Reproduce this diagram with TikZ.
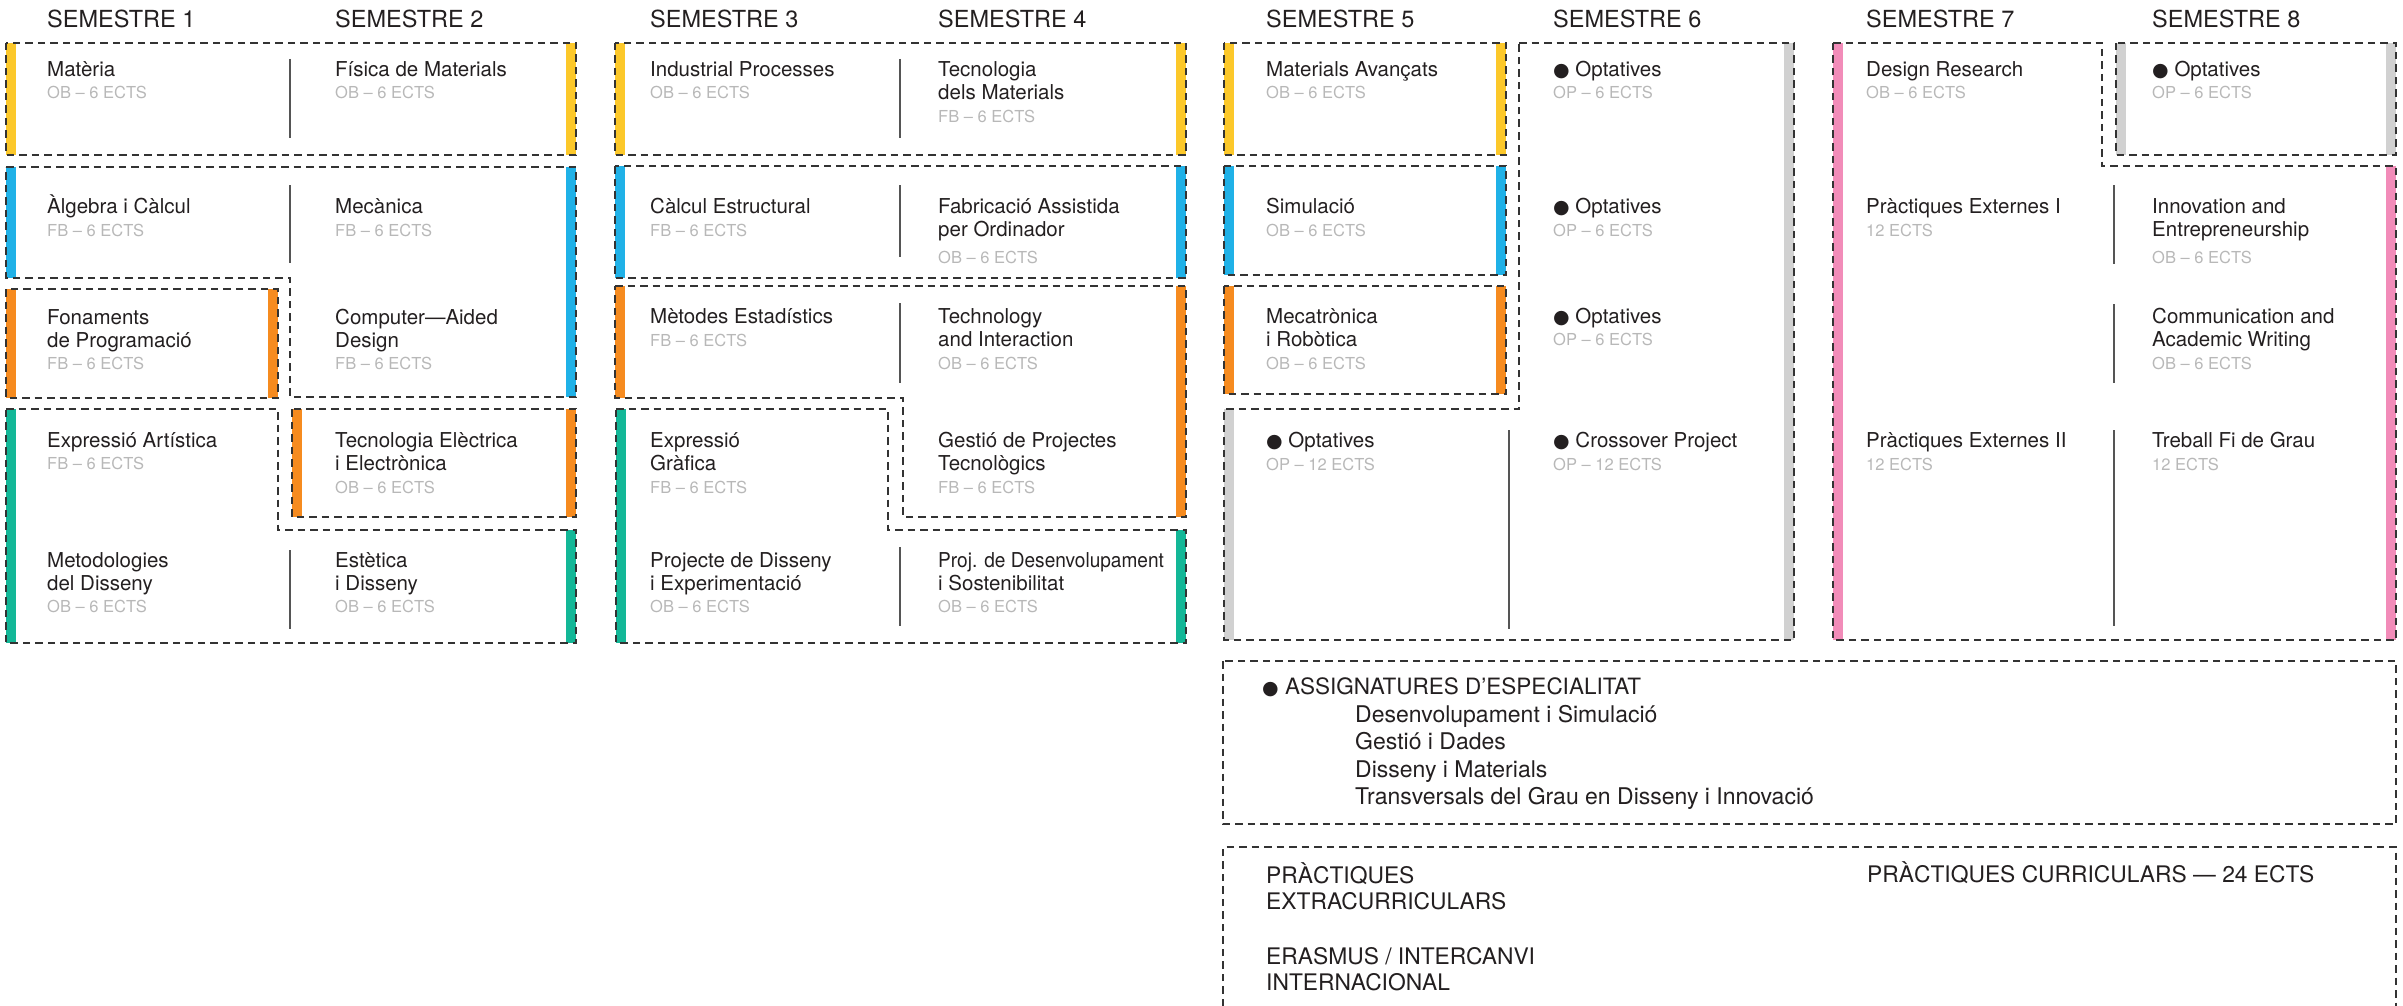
\documentclass[tikz,border=0pt]{standalone}
\usepackage{fontspec}
\setmainfont{TeX Gyre Heros}
\newfontfamily\dejavu{DejaVu Sans}
\definecolor{cyel}{HTML}{FCC82A}
\definecolor{ccya}{HTML}{20B1E7}
\definecolor{cora}{HTML}{F68B1F}
\definecolor{cgre}{HTML}{13B797}
\definecolor{cpin}{HTML}{F28CB9}
\definecolor{cgry}{HTML}{D1D1D1}
\definecolor{linec}{HTML}{333333}
\definecolor{divc}{HTML}{555555}
\definecolor{txt}{HTML}{231F20}
\definecolor{ectsc}{HTML}{B8B8B8}
\tikzset{
  dbox/.style={draw=linec, line width=1.6pt, dash pattern=on 7.5pt off 5pt},
  divl/.style={draw=divc, line width=1.3pt},
  subj/.style={anchor=base west, inner sep=0pt, text=txt, font=\fontsize{20.5}{23}\selectfont},
  ects/.style={anchor=base west, inner sep=0pt, text=ectsc, font=\fontsize{16.5}{19}\selectfont},
  semt/.style={anchor=base west, inner sep=0pt, text=txt, font=\fontsize{23.5}{28}\selectfont},
  botA/.style={anchor=base west, inner sep=0pt, text=txt, font=\fontsize{22.5}{27.5}\selectfont},
  botL/.style={anchor=base west, inner sep=0pt, text=txt, font=\fontsize{23}{27.5}\selectfont},
  botB/.style={anchor=base west, inner sep=0pt, text=txt, font=\fontsize{22.8}{26}\selectfont},
}
\newcommand\bul[1]{{\dejavu\fontsize{#1}{#1}\selectfont ●}}
\newcommand\Subj[6]{%
  \node[subj] (#1) at (#2,#3) {\begin{tabular}[t]{@{}l@{}}#4\end{tabular}};
  \node[ects] (#1e) at (#2,#5) {#6};}
\begin{document}
\begin{tikzpicture}[x=1pt,y=-1pt]
\useasboundingbox (0,0) rectangle (2403,1006);
% ---------- coloured bars ----------
% block 1
\fill[cyel] (6,43) rectangle (16,155);   \fill[cyel] (566,43) rectangle (576,155);
\fill[ccya] (6,167) rectangle (16,278);  \fill[ccya] (566,167) rectangle (576,397);
\fill[cora] (6,289) rectangle (16,398);  \fill[cora] (268,289) rectangle (278,398);
\fill[cora] (292,409) rectangle (302,517); \fill[cora] (566,409) rectangle (576,517);
\fill[cgre] (6,409) rectangle (16,643);  \fill[cgre] (566,530) rectangle (576,643);
% block 2
\fill[cyel] (615,43) rectangle (625,155);  \fill[cyel] (1176,43) rectangle (1186,155);
\fill[ccya] (615,166) rectangle (625,278); \fill[ccya] (1176,166) rectangle (1186,278);
\fill[cora] (615,286) rectangle (625,398); \fill[cora] (1176,286) rectangle (1186,517);
\fill[cgre] (616,409) rectangle (626,643); \fill[cgre] (1176,530) rectangle (1186,643);
% block 3
\fill[cyel] (1224,43) rectangle (1234,155);  \fill[cyel] (1496,43) rectangle (1506,155);
\fill[ccya] (1224,166) rectangle (1234,275); \fill[ccya] (1496,166) rectangle (1506,275);
\fill[cora] (1224,286) rectangle (1234,394); \fill[cora] (1496,286) rectangle (1506,394);
\fill[cgry] (1224,409) rectangle (1234,640); \fill[cgry] (1784,43) rectangle (1794,640);
% block 4
\fill[cpin] (1833,43) rectangle (1843,640);  \fill[cpin] (2386,166) rectangle (2396,640);
\fill[cgry] (2116,43) rectangle (2126,155);  \fill[cgry] (2386,43) rectangle (2396,155);
% ---------- dashed outlines ----------
\draw[dbox] (6,43) rectangle (576,155);
\draw[dbox] (6,167) -- (576,167) -- (576,397) -- (290,397) -- (290,278) -- (6,278) -- cycle;
\draw[dbox] (6,289) rectangle (278,398);
\draw[dbox] (292,409) rectangle (576,517);
\draw[dbox] (6,409) -- (278,409) -- (278,530) -- (576,530) -- (576,643) -- (6,643) -- cycle;
\draw[dbox] (615,43) rectangle (1186,155);
\draw[dbox] (615,166) rectangle (1186,278);
\draw[dbox] (615,286) -- (1186,286) -- (1186,517) -- (903,517) -- (903,398) -- (615,398) -- cycle;
\draw[dbox] (616,409) -- (888,409) -- (888,530) -- (1186,530) -- (1186,643) -- (616,643) -- cycle;
\draw[dbox] (1224,43) rectangle (1506,155);
\draw[dbox] (1224,166) rectangle (1506,275);
\draw[dbox] (1224,286) rectangle (1506,394);
\draw[dbox] (1519,43) -- (1794,43) -- (1794,640) -- (1224,640) -- (1224,409) -- (1519,409) -- cycle;
\draw[dbox] (1833,43) -- (2102,43) -- (2102,166) -- (2396,166) -- (2396,640) -- (1833,640) -- cycle;
\draw[dbox] (2116,43) rectangle (2396,155);
\draw[dbox] (1223,661) rectangle (2396,824);
\draw[dbox] (1223,1006) -- (1223,847) -- (2396,847) -- (2396,1006);
% ---------- dividers ----------
\draw[divl] (290,59) -- (290,138);  \draw[divl] (290,185) -- (290,263);  \draw[divl] (290,550) -- (290,629);
\draw[divl] (900,59) -- (900,138);  \draw[divl] (900,185) -- (900,257);  \draw[divl] (900,303) -- (900,383);  \draw[divl] (900,547) -- (900,626);
\draw[divl] (1509,430) -- (1509,629);
\draw[divl] (2114,185) -- (2114,264); \draw[divl] (2114,304) -- (2114,383); \draw[divl] (2114,430) -- (2114,626);
% ---------- semester titles ----------
\node[semt] (t1) at (47,28) {SEMESTRE 1};
\node[semt] (t2) at (335,28) {SEMESTRE 2};
\node[semt] (t3) at (650,28) {SEMESTRE 3};
\node[semt] (t4) at (938,28) {SEMESTRE 4};
\node[semt] (t5) at (1266,28) {SEMESTRE 5};
\node[semt] (t6) at (1553,28) {SEMESTRE 6};
\node[semt] (t7) at (1866,28) {SEMESTRE 7};
\node[semt] (t8) at (2152,28) {SEMESTRE 8};
% ---------- block 1 ----------
\Subj{a1}{47}{77}{Matèria}{99}{OB – 6 ECTS}
\Subj{a2}{335}{77}{Física de Materials}{99}{OB – 6 ECTS}
\Subj{a3}{47}{213}{Àlgebra i Càlcul}{236}{FB – 6 ECTS}
\Subj{a4}{335}{213}{Mecànica}{236}{FB – 6 ECTS}
\Subj{a5}{47}{324}{Fonaments\\de Programació}{369}{FB – 6 ECTS}
\Subj{a6}{335}{324}{Computer—Aided\\Design}{369}{FB – 6 ECTS}
\Subj{a7}{47}{447}{Expressió Artística}{469}{FB – 6 ECTS}
\Subj{a8}{335}{447}{Tecnologia Elèctrica\\i Electrònica}{493}{OB – 6 ECTS}
\Subj{a9}{47}{567}{Metodologies\\del Disseny}{612}{OB – 6 ECTS}
\Subj{a10}{335}{567}{Estètica\\i Disseny}{612}{OB – 6 ECTS}
% ---------- block 2 ----------
\Subj{b1}{650}{77}{Industrial Processes}{99}{OB – 6 ECTS}
\Subj{b2}{938}{77}{Tecnologia\\dels Materials}{123}{FB – 6 ECTS}
\Subj{b3}{650}{213}{Càlcul Estructural}{236}{FB – 6 ECTS}
\Subj{b4}{938}{213}{Fabricació Assistida\\per Ordinador}{263}{OB – 6 ECTS}
\Subj{b5}{650}{323}{Mètodes Estadístics}{346}{FB – 6 ECTS}
\Subj{b6}{938}{323}{Technology\\and Interaction}{369}{OB – 6 ECTS}
\Subj{b7}{650}{447}{Expressió\\Gràfica}{493}{FB – 6 ECTS}
\Subj{b8}{938}{447}{Gestió de Projectes\\Tecnològics}{493}{FB – 6 ECTS}
\Subj{b9}{650}{567}{Projecte de Disseny\\i Experimentació}{612}{OB – 6 ECTS}
\Subj{b10}{938}{567}{\scalebox{0.93}[1]{Proj. de Desenvolupament}\\i Sostenibilitat}{612}{OB – 6 ECTS}
% ---------- block 3 ----------
\Subj{c1}{1266}{77}{Materials Avançats}{99}{OB – 6 ECTS}
\Subj{c2}{1553}{77}{\bul{19} Optatives}{99}{OP – 6 ECTS}
\Subj{c3}{1266}{213}{Simulació}{236}{OB – 6 ECTS}
\Subj{c4}{1553}{213}{\bul{19} Optatives}{236}{OP – 6 ECTS}
\Subj{c5}{1266}{323}{Mecatrònica\\i Robòtica}{369}{OB – 6 ECTS}
\Subj{c6}{1553}{323}{\bul{19} Optatives}{345}{OP – 6 ECTS}
\Subj{c7}{1266}{447}{\bul{19} Optatives}{470}{OP – 12 ECTS}
\Subj{c8}{1553}{447}{\bul{19} Crossover Project}{470}{OP – 12 ECTS}
% ---------- block 4 ----------
\Subj{d1}{1866}{77}{Design Research}{99}{OB – 6 ECTS}
\Subj{d2}{2152}{77}{\bul{19} Optatives}{99}{OP – 6 ECTS}
\Subj{d3}{1866}{213}{Pràctiques Externes I}{236}{12 ECTS}
\Subj{d4}{2152}{213}{Innovation and\\Entrepreneurship}{263}{OB – 6 ECTS}
\Subj{d5}{2152}{323}{Communication and\\Academic Writing}{369}{OB – 6 ECTS}
\Subj{d6}{1866}{447}{Pràctiques Externes II}{470}{12 ECTS}
\Subj{d7}{2152}{447}{Treball Fi de Grau}{470}{12 ECTS}
% ---------- bottom ----------
\node[botA] (spechead) at (1262,694) {\bul{19} ASSIGNATURES D’ESPECIALITAT};
\node[botL] (speclist) at (1355,722) {\begin{tabular}[t]{@{}l@{}}Desenvolupament i Simulació\\Gestió i Dades\\Disseny i Materials\\Transversals del Grau en Disseny i Innovació\end{tabular}};
\node[botB] (extra) at (1266,883) {\begin{tabular}[t]{@{}l@{}}PRÀCTIQUES\\EXTRACURRICULARS\end{tabular}};
\node[botB] (erasmus) at (1266,964) {\begin{tabular}[t]{@{}l@{}}ERASMUS / INTERCANVI\\INTERNACIONAL\end{tabular}};
\node[botB] (curr) at (1867,882) {PRÀCTIQUES CURRICULARS — 24 ECTS};
\end{tikzpicture}
\end{document}
